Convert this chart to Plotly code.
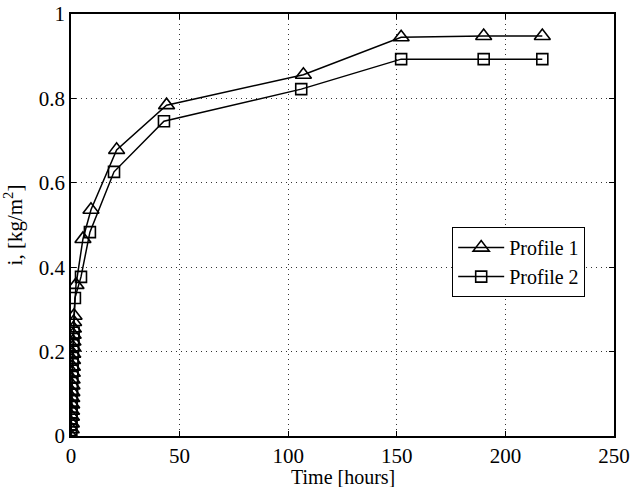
import plotly.graph_objects as go

# Profile 1 (triangles)
p1_time = [0.0, 0.1, 0.15, 0.2, 0.25, 0.3, 0.35, 0.4, 0.45, 0.5, 0.6, 0.65, 0.7, 0.8, 0.85,
           0.9, 1.0, 1.1, 1.2, 1.4, 2.3, 5.5, 9.2, 21.0, 44.0, 107.0, 152.0, 190.0, 217.0]
p1_val = [0.0, 0.016, 0.03, 0.046, 0.06, 0.075, 0.09, 0.104, 0.12, 0.134, 0.15, 0.164, 0.18,
          0.195, 0.21, 0.224, 0.24, 0.255, 0.27, 0.285, 0.358, 0.467, 0.536, 0.678, 0.784,
          0.856, 0.945, 0.948, 0.948]

# Profile 2 (squares)
p2_time = [0.0, 0.1, 0.15, 0.2, 0.25, 0.3, 0.35, 0.4, 0.45, 0.5, 0.6, 0.7, 0.75, 0.8,
           0.9, 1.0, 1.1, 1.2, 1.8, 4.6, 8.7, 19.8, 42.8, 106.0, 152.0, 190.0, 217.0]
p2_val = [0.0, 0.014, 0.028, 0.042, 0.056, 0.07, 0.084, 0.098, 0.112, 0.126, 0.14, 0.155,
          0.17, 0.185, 0.2, 0.215, 0.23, 0.245, 0.327, 0.377, 0.483, 0.626, 0.746,
          0.822, 0.893, 0.893, 0.893]

x_ticks = [0, 50, 100, 150, 200, 250]
y_ticks = [0, 0.2, 0.4, 0.6, 0.8, 1]
y_tick_text = ["0", "0.2", "0.4", "0.6", "0.8", "1"]

FONT = "Liberation Serif, Times New Roman, serif"

fig = go.Figure()
fig.add_trace(go.Scatter(
    x=p1_time, y=p1_val, mode="lines+markers", name="Profile 1",
    line=dict(color="black", width=1.5),
    marker=dict(symbol="triangle-up-open", size=14, color="black", line=dict(width=1.6)),
))
fig.add_trace(go.Scatter(
    x=p2_time, y=p2_val, mode="lines+markers", name="Profile 2",
    line=dict(color="black", width=1.5),
    marker=dict(symbol="square-open", size=11, color="black", line=dict(width=1.6)),
))

axis_common = dict(
    showline=True, linecolor="black", linewidth=1.5, mirror="ticks",
    ticks="inside", ticklen=5, tickcolor="black",
    showgrid=True, gridcolor="#333333", griddash="1px,4px", gridwidth=1.2,
    zeroline=False, automargin=False, ticklabeloverflow="allow",
    tickfont=dict(family=FONT, size=21, color="black"),
)

fig.update_layout(
    width=643, height=487,
    paper_bgcolor="white", plot_bgcolor="white",
    margin=dict(l=71, r=29, t=14, b=51),
    font=dict(family=FONT, color="black"),
    showlegend=True,
    legend=dict(
        x=0.702, y=0.495, xanchor="left", yanchor="top",
        bgcolor="white", bordercolor="black", borderwidth=1,
        font=dict(family=FONT, size=20, color="black"),
        tracegroupgap=0, itemwidth=46,
    ),
    annotations=[dict(
        text="Time [hours]", xref="paper", yref="paper", x=0.5, y=-0.098,
        xanchor="center", yanchor="middle", showarrow=False,
        font=dict(family=FONT, size=20, color="black"),
    )],
)
fig.update_xaxes(range=[0, 250], tickvals=x_ticks, **axis_common)
fig.update_yaxes(
    range=[0, 1], tickvals=y_ticks, ticktext=y_tick_text,
    title=dict(text="i, [kg/m<sup>2</sup>]", font=dict(family=FONT, size=21, color="black"), standoff=16),
    **axis_common,
)

fig.write_html("out.html", config={"displayModeBar": False},
               post_script="document.body.style.margin='0px';")
